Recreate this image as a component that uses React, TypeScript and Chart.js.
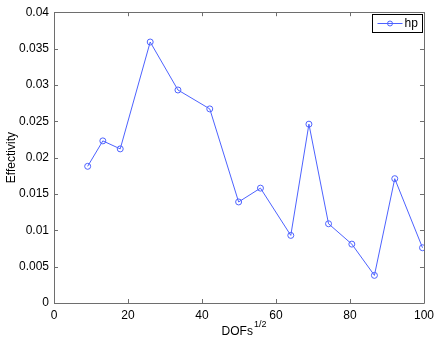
import React, { useEffect, useRef } from "react";
import { Chart, registerables } from "chart.js";

Chart.register(...registerables);

const xValues = [9.1, 13.2, 17.9, 26.0, 33.5, 42.1, 49.9, 55.8, 64.0, 68.9, 74.2, 80.5, 86.6, 92.1, 99.6];
const yValues = [0.0188, 0.0223, 0.0212, 0.0359, 0.0293, 0.0267, 0.0139, 0.0158, 0.0093, 0.0246, 0.0109, 0.0081, 0.0038, 0.0171, 0.0076];
const seriesName = "hp";
const xTitle = "DOFs";
const xTitleSup = "1/2";
const yTitle = "Effectivity";

const FONT = "'Liberation Sans', Arial, Helvetica, sans-serif";
const BLUE = "#4d62ff";
const AXIS = "#6e6e6e";

const boxPlugin = {
  id: "matlabBox",
  afterDraw(chart: any) {
    const { ctx, chartArea: a, scales } = chart;
    const xs = scales.x;
    const ys = scales.y;
    ctx.save();
    ctx.strokeStyle = AXIS;
    ctx.lineWidth = 1;
    ctx.beginPath();
    ctx.rect(Math.round(a.left) + 0.5, Math.round(a.top) + 0.5, Math.round(a.right - a.left), Math.round(a.bottom - a.top));
    ctx.stroke();
    const tl = 4;
    ctx.beginPath();
    xs.ticks.forEach((t: any) => {
      const px = Math.round(xs.getPixelForValue(t.value)) + 0.5;
      ctx.moveTo(px, a.bottom);
      ctx.lineTo(px, a.bottom - tl);
      ctx.moveTo(px, a.top);
      ctx.lineTo(px, a.top + tl);
    });
    ys.ticks.forEach((t: any) => {
      const py = Math.round(ys.getPixelForValue(t.value)) + 0.5;
      ctx.moveTo(a.left, py);
      ctx.lineTo(a.left + tl, py);
      ctx.moveTo(a.right, py);
      ctx.lineTo(a.right - tl, py);
    });
    ctx.stroke();

    // axis titles
    ctx.fillStyle = "#000";
    ctx.font = `12px ${FONT}`;
    const mainW = ctx.measureText(xTitle).width;
    ctx.font = `9px ${FONT}`;
    const supW = ctx.measureText(xTitleSup).width;
    const total = mainW + 1 + supW;
    const cx = (a.left + a.right) / 2 + 5;
    const startX = cx - total / 2;
    ctx.textBaseline = "alphabetic";
    ctx.textAlign = "left";
    ctx.font = `12px ${FONT}`;
    ctx.fillText(xTitle, startX, 335);
    ctx.font = `9px ${FONT}`;
    ctx.fillText(xTitleSup, startX + mainW + 1, 327);

    ctx.save();
    ctx.translate(15, (a.top + a.bottom) / 2);
    ctx.rotate(-Math.PI / 2);
    ctx.font = `12px ${FONT}`;
    ctx.textAlign = "center";
    ctx.textBaseline = "alphabetic";
    ctx.fillText(yTitle, 0, 0);
    ctx.restore();

    // legend
    const lx = 372.5, ly = 14.5, lw = 50, lh = 18;
    ctx.fillStyle = "#fff";
    ctx.fillRect(lx, ly, lw, lh);
    ctx.strokeStyle = "#000";
    ctx.lineWidth = 1;
    ctx.strokeRect(lx, ly, lw, lh);
    const my = ly + lh / 2;
    ctx.strokeStyle = BLUE;
    ctx.beginPath();
    ctx.moveTo(lx + 5, my);
    ctx.lineTo(lx + 30, my);
    ctx.stroke();
    ctx.beginPath();
    ctx.arc(lx + 17.5, my, 2.5, 0, Math.PI * 2);
    ctx.stroke();
    ctx.fillStyle = "#000";
    ctx.font = `12px ${FONT}`;
    ctx.textAlign = "left";
    ctx.textBaseline = "middle";
    ctx.fillText(seriesName, lx + 32, my + 0.5);
    ctx.restore();
  },
};

export default function App() {
  const ref = useRef<HTMLCanvasElement>(null);
  useEffect(() => {
    document.body.style.margin = "0";
    const chart = new Chart(ref.current!, {
      type: "scatter",
      data: {
        datasets: [
          {
            label: seriesName,
            data: xValues.map((x, i) => ({ x, y: yValues[i] })),
            showLine: true,
            borderColor: BLUE,
            borderWidth: 1,
            backgroundColor: "rgba(0,0,0,0)",
            pointRadius: 3,
            pointBorderWidth: 1,
            pointBorderColor: BLUE,
            pointBackgroundColor: "rgba(0,0,0,0)",
          },
        ],
      },
      options: {
        animation: false,
        responsive: false,
        maintainAspectRatio: false,
        devicePixelRatio: 1,
        layout: { padding: { top: 10, right: 14, left: 0, bottom: 0 } },
        plugins: { legend: { display: false }, tooltip: { enabled: false } },
        scales: {
          x: {
            type: "linear",
            min: 0,
            max: 100,
            afterFit: (s: any) => { s.height = 37; },
            grid: { display: false, drawTicks: false, tickLength: 0 },
            border: { display: false },
            ticks: {
              stepSize: 20,
              padding: 5,
              color: "#000",
              font: { family: FONT, size: 12 },
              maxRotation: 0,
            },
          },
          y: {
            type: "linear",
            min: 0,
            max: 0.04,
            afterFit: (s: any) => { s.width = 54; },
            grid: { display: false, drawTicks: false, tickLength: 0 },
            border: { display: false },
            ticks: {
              stepSize: 0.005,
              padding: 5,
              color: "#000",
              font: { family: FONT, size: 12 },
              callback: (v: any) => String(Number(Number(v).toFixed(4))),
            },
          },
        },
      },
      plugins: [boxPlugin],
    });
    return () => chart.destroy();
  }, []);
  return (
    <div style={{ width: 439, height: 340, background: "#fff" }}>
      <canvas ref={ref} width={439} height={340} style={{ display: "block" }} />
    </div>
  );
}
